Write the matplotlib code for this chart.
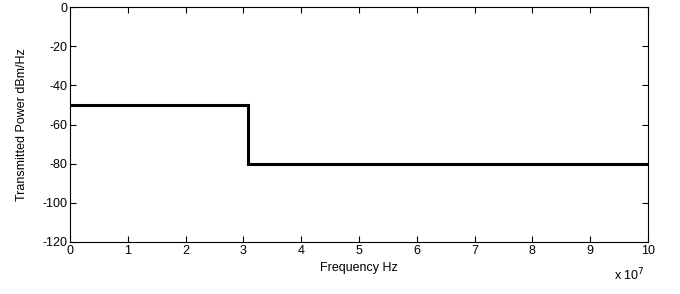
import matplotlib
matplotlib.use("Agg")
import matplotlib.pyplot as plt
import numpy as np

plt.rcParams['font.family'] = ['Liberation Sans', 'DejaVu Sans']
plt.rcParams['axes.unicode_minus'] = False

freq_hz = [0, 3.08e7, 3.08e7, 1e8]
power_dbm_hz = [-50, -50, -80, -80]
xticks = [i * 1e7 for i in range(11)]
xticklabels = [str(i) for i in range(11)]
yticks = [-120, -100, -80, -60, -40, -20, 0]

fig = plt.figure(figsize=(6.8, 2.94), dpi=100)
ax = fig.add_axes([70/680, 1-242/294, 578/680, 235/294])
ax.plot(freq_hz, power_dbm_hz, color='black', lw=2.2, solid_joinstyle='miter')
ax.set_xlim(0, 1e8)
ax.set_ylim(-120, 0)
ax.set_xticks(xticks)
ax.set_xticklabels(xticklabels)
ax.set_yticks(yticks)
ax.tick_params(direction='in', top=True, right=True, labelsize=9, length=4, width=0.8, pad=2)
for s in ax.spines.values():
    s.set_linewidth(0.8)
ax.set_xlabel('Frequency Hz', fontsize=9, labelpad=4)
ax.set_ylabel('Transmitted Power dBm/Hz', fontsize=9, labelpad=10)
ax.text(0.941, -0.105, r'x 10$^{7}$', transform=ax.transAxes, fontsize=9,
        ha='left', va='top')
fig.savefig('out.png', dpi=100)
